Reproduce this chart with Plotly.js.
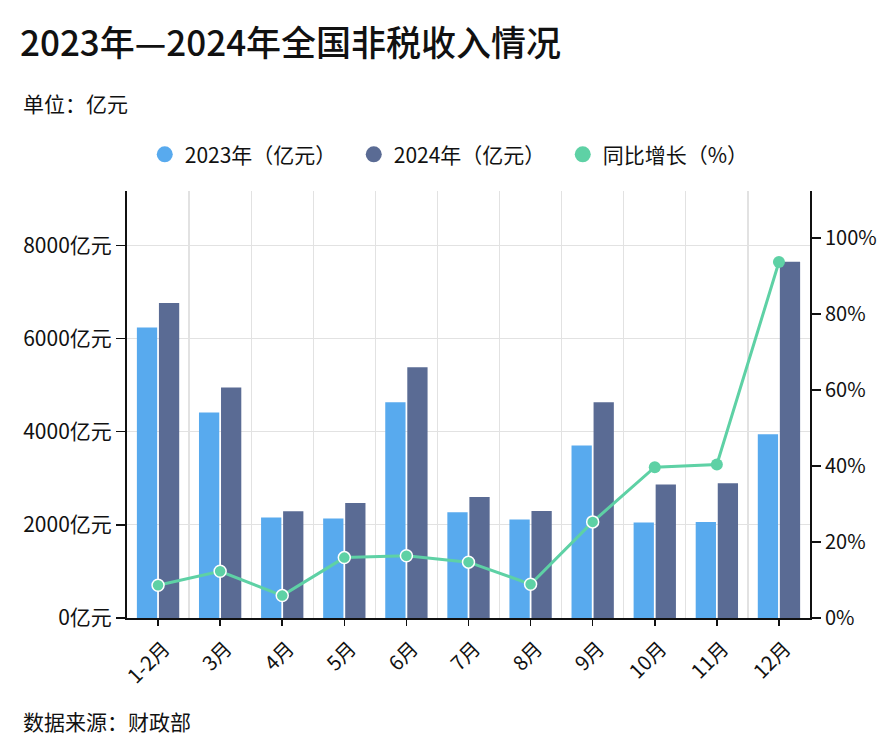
<!DOCTYPE html>
<html>
<head>
<meta charset="utf-8">
<script src="https://cdn.plot.ly/plotly-3.0.1.min.js"></script>
<style>html,body{margin:0;padding:0;background:#fff;}#chart{width:883px;height:745px;}</style>
</head>
<body>
<div id="chart"></div>
<script>
const categories = ['1-2月','3月','4月','5月','6月','7月','8月','9月','10月','11月','12月'];
const values2023 = [6238, 4412, 2157, 2135, 4634, 2271, 2114, 3703, 2049, 2062, 3946];
const values2024 = [6767, 4949, 2292, 2471, 5386, 2600, 2299, 4634, 2866, 2894, 7648];
const growthPct = [8.6, 12.3, 5.9, 15.9, 16.4, 14.7, 8.9, 25.3, 39.7, 40.4, 93.7];
const leftTicks = [0, 2000, 4000, 6000, 8000];
const leftTickText = leftTicks.map(v => v + '亿元');
const rightTicks = [0, 20, 40, 60, 80, 100];
const rightTickText = rightTicks.map(v => v + '%');

const FONT = '"Noto Sans CJK SC", "Noto Sans", sans-serif';
const C23 = '#58aaee', C24 = '#5a6b94', CG = '#5ed1a5';

const traces = [
  {type:'bar', name:'2023年（亿元）', x:categories, y:values2023, marker:{color:C23}, showlegend:false, xaxis:'x', yaxis:'y'},
  {type:'bar', name:'2024年（亿元）', x:categories, y:values2024, marker:{color:C24}, showlegend:false, xaxis:'x', yaxis:'y'},
  {type:'scatter', mode:'lines+markers', name:'同比增长（%）', x:categories, y:growthPct,
   line:{color:CG, width:3}, marker:{color:CG, size:12, line:{color:'#ffffff', width:[1.5,1.5,1.5,1.5,1.5,1.5,1.5,1.5,0,0,0]}},
   showlegend:false, xaxis:'x2', yaxis:'y2'},
  {type:'scatter', mode:'markers', name:'2023年（亿元）', x:[null], y:[null], marker:{color:C23, size:17}, xaxis:'x', yaxis:'y'},
  {type:'scatter', mode:'markers', name:'2024年（亿元）', x:[null], y:[null], marker:{color:C24, size:17}, xaxis:'x', yaxis:'y'},
  {type:'scatter', mode:'markers', name:'同比增长（%）', x:[null], y:[null], marker:{color:CG, size:17}, xaxis:'x', yaxis:'y'}
];

const layout = {
  width:883, height:745,
  margin:{l:127, r:73, t:191, b:127},
  paper_bgcolor:'#fff', plot_bgcolor:'#fff',
  font:{family:FONT, color:'#111', size:18},
  title:{text:'2023年—2024年全国非税收入情况', font:{family:FONT, size:35, color:'#111', weight:500},
         x:20/883, xref:'container', xanchor:'left', y:1-44/745, yref:'container', yanchor:'middle'},
  barmode:'group', bargap:0.29, bargroupgap:0.08,
  showlegend:true,
  legend:{orientation:'h', x:0.485, xanchor:'center', y:1.085, yanchor:'middle',
          font:{family:FONT, size:21, color:'#111'}, traceorder:'normal',
          entrywidth:164, entrywidthmode:'pixels'},
  xaxis:{type:'category', categoryorder:'array', categoryarray:categories, range:[-0.5,10.5],
         tickson:'boundaries', showgrid:true, gridcolor:'#e2e2e2', gridwidth:1.2, ticks:'',
         showline:true, linecolor:'#111', linewidth:2, tickangle:-45,
         ticklabelstandoff:9, ticklabelshift:6,
         tickfont:{family:FONT, size:20, color:'#111'}, zeroline:false, fixedrange:true},
  xaxis2:{type:'category', matches:'x', overlaying:'x', anchor:'y2', side:'bottom',
          showgrid:false, showline:false, ticks:'outside', ticklen:7, tickcolor:'#111', tickwidth:1.5,
          showticklabels:false, zeroline:false},
  yaxis:{range:[0,9170], tickvals:leftTicks, ticktext:leftTickText, showgrid:true, gridcolor:'#e2e2e2', gridwidth:1.2,
         showline:true, linecolor:'#111', linewidth:2, ticks:'outside', ticklen:9, tickcolor:'#111', tickwidth:1.5,
         zeroline:false, tickfont:{family:FONT, size:21, color:'#111'}},
  yaxis2:{range:[0,112.4], tickvals:rightTicks, ticktext:rightTickText, overlaying:'y', side:'right', anchor:'x2',
          showgrid:false, showline:true, linecolor:'#111', linewidth:2, ticks:'outside', ticklen:9, tickcolor:'#111', tickwidth:1.5,
          zeroline:false, tickfont:{family:FONT, size:20, color:'#111'}},
  annotations:[
    {text:'单位：亿元', xref:'paper', yref:'paper', x:(21-127)/683, y:(618-103)/427, xanchor:'left', yanchor:'middle',
     showarrow:false, font:{family:FONT, size:21, color:'#111'}},
    {text:'数据来源：财政部', xref:'paper', yref:'paper', x:(21-127)/683, y:(618-721)/427, xanchor:'left', yanchor:'middle',
     showarrow:false, font:{family:FONT, size:21, color:'#111'}}
  ]
};

Plotly.newPlot('chart', traces, layout, {displayModeBar:false, staticPlot:true});
</script>
</body>
</html>
